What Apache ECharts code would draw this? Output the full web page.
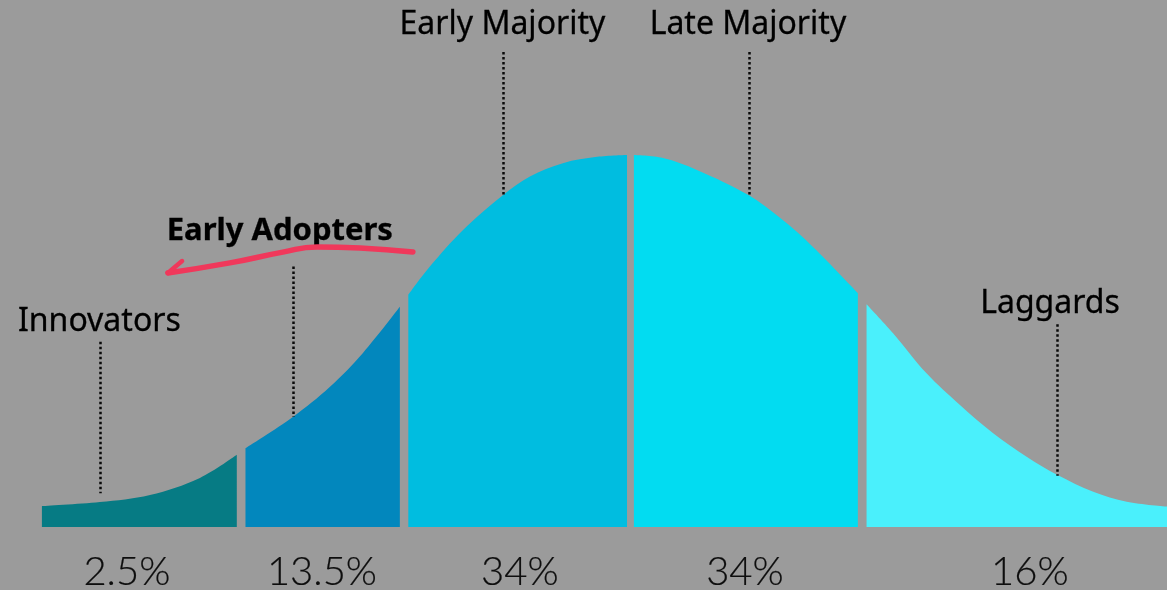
<!DOCTYPE html>
<html>
<head>
<meta charset="utf-8">
<script src="https://cdn.jsdelivr.net/npm/echarts@6/dist/echarts.min.js"></script>
<style>
  html, body { margin: 0; padding: 0; background: #9b9b9b; }
  #chart { width: 1167px; height: 590px; }
</style>
</head>
<body>
<div id="chart"></div>
<script>
// x: standard deviations from the mean; y: curve height relative to peak (peak = 100)
const segmentNames = ['Innovators', 'Early Adopters', 'Early Majority', 'Late Majority', 'Laggards'];
const segmentShares = ['2.5%', '13.5%', '34%', '34%', '16%'];
const segmentColors = ['#067b84', '#0287bd', '#00bde0', '#02dcf1', '#4af0fc'];

const seg1X = [-2.572, -2.319, -2.100, -1.882, -1.721];
const seg1Y = [5.6, 6.7, 8.6, 13.2, 19.4];
const seg2X = [-1.683, -1.476, -1.314, -1.170, -1.009];
const seg2Y = [21.2, 29.6, 37.7, 46.8, 59.2];
const seg3X = [-0.972, -0.878, -0.734, -0.559, -0.441, -0.297, -0.148, -0.017];
const seg3Y = [62.4, 70.0, 79.8, 89.2, 94.2, 97.8, 99.5, 100];
const seg4X = [0.013, 0.140, 0.288, 0.515, 0.651, 0.795, 0.991];
const seg4Y = [100, 99.2, 96.0, 89.2, 83.1, 75.3, 62.9];
const seg5X = [1.029, 1.145, 1.291, 1.437, 1.582, 1.728, 1.863, 2.019, 2.165, 2.341];
const seg5Y = [59.9, 52.1, 41.3, 32.8, 25.2, 18.9, 14.0, 9.5, 6.8, 5.5];

// share labels below the curve
const shareX = [-2.201, -1.349, -0.485, 0.498, 1.742];
const shareY = [-12.1, -12.1, -12.1, -12.1, -12.1];

// group name labels and their dotted leaders
const nameX = [-2.321, -1.533, -0.561, 0.511, 1.830];
const nameY = [55.1, 79.6, 134.9, 134.9, 59.9];
const leaderX = [-2.319, -1.476, -0.559, 0.515, 1.863];
const leaderTop = [49.8, 70.0, 127.7, 127.7, 54.5];
const leaderBottom = [9.1, 29.6, 89.2, 89.2, 13.8];

// red hand-drawn arrow under "Early Adopters"
const arrowX = [-0.952, -1.183, -1.371, -1.520, -1.751, -2.022];
const arrowY = [73.9, 75.0, 75.3, 73.9, 71.0, 68.3];
const barbX = [-2.022, -1.960];
const barbY = [68.3, 71.5];

const segX = [seg1X, seg2X, seg3X, seg4X, seg5X];
const segY = [seg1Y, seg2Y, seg3Y, seg4Y, seg5Y];

const zip = (xs, ys) => xs.map((x, i) => [x, ys[i]]);

const series = [];
segX.forEach((xs, i) => {
  series.push({
    type: 'line',
    name: segmentNames[i],
    data: zip(xs, segY[i]),
    smooth: 0.35,
    showSymbol: false,
    symbol: 'none',
    lineStyle: { width: 0 },
    areaStyle: { color: segmentColors[i], opacity: 1, origin: 'auto' },
    silent: true,
    z: 2
  });
});

series.push({
  type: 'line',
  name: 'leaders',
  data: [],
  silent: true,
  markLine: {
    silent: true,
    symbol: 'none',
    animation: false,
    label: { show: false },
    lineStyle: { color: '#0a0a0a', width: 2.5, type: [2.5, 2.5] },
    data: leaderX.map((x, i) => [
      { coord: [x, leaderTop[i]] },
      { coord: [x, leaderBottom[i]] }
    ])
  },
  z: 3
});

const nameData = nameX.map((x, i) => ({ value: [x, nameY[i]], name: segmentNames[i] }));
nameData[1].label = { fontWeight: 'bold', fontSize: 31 };

series.push({
  type: 'scatter',
  name: 'names',
  data: nameData,
  symbolSize: 0,
  itemStyle: { color: '#000', opacity: 1 },
  silent: true,
  clip: false,
  label: {
    show: true,
    position: [0, 0],
    formatter: p => p.name,
    fontFamily: 'Noto Sans',
    fontSize: 32,
    color: '#000',
    textBorderColor: '#000',
    textBorderWidth: 0.3,
    align: 'center',
    verticalAlign: 'middle'
  },
  z: 4
});

series.push({
  type: 'scatter',
  name: 'shares',
  data: shareX.map((x, i) => ({ value: [x, shareY[i]], name: segmentShares[i] })),
  symbolSize: 0,
  itemStyle: { color: '#000', opacity: 1 },
  silent: true,
  clip: false,
  label: {
    show: true,
    position: [0, 0],
    formatter: p => p.name,
    fontFamily: 'Lato',
    fontWeight: 300,
    fontSize: 40,
    color: '#0d0d0d',
    textBorderColor: '#0d0d0d',
    textBorderWidth: 0.2,
    align: 'center',
    verticalAlign: 'middle'
  },
  z: 4
});

series.push({
  type: 'line',
  name: 'arrow',
  data: zip(arrowX, arrowY),
  smooth: 0.5,
  showSymbol: false,
  symbol: 'none',
  lineStyle: { color: '#f0385b', width: 5.5, cap: 'round' },
  silent: true,
  z: 5
});
series.push({
  type: 'line',
  name: 'arrowBarb',
  data: zip(barbX, barbY),
  showSymbol: false,
  symbol: 'none',
  lineStyle: { color: '#f0385b', width: 4.5, cap: 'round' },
  silent: true,
  z: 5
});

const chart = echarts.init(document.getElementById('chart'), null, { renderer: 'canvas' });
chart.setOption({
  backgroundColor: '#9b9b9b',
  animation: false,
  grid: { left: 0, right: 0, top: 0, bottom: 0 },
  xAxis: { type: 'value', min: -2.755, max: 2.341, show: false },
  yAxis: { type: 'value', min: -16.94, max: 141.67, show: false },
  series: series
});
</script>
</body>
</html>
